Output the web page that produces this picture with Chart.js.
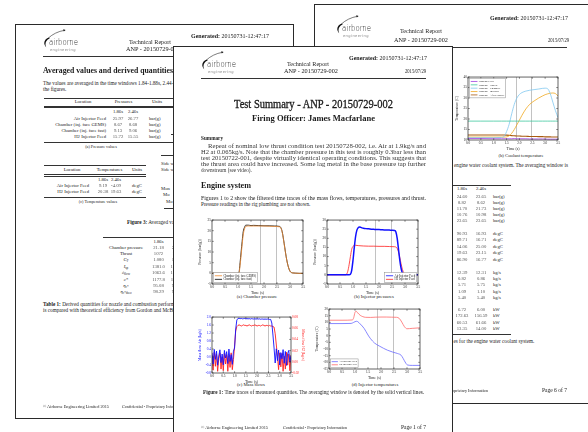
<!DOCTYPE html>
<html><head><meta charset="utf-8">
<script src="https://cdn.jsdelivr.net/npm/chart.js@4.4.1/dist/chart.umd.min.js"></script>
<style>
html,body{margin:0;padding:0;background:#fff;}
#stage{position:relative;width:588px;height:432px;overflow:hidden;background:#fff;}
.page{position:absolute;background:#fff;border:1px solid #2a2a2a;box-sizing:border-box;overflow:hidden;}
.t{position:absolute;white-space:nowrap;font-family:"Liberation Serif","DejaVu Serif",serif;color:#1a1a1a;line-height:1;transform-origin:0 50%;}
.t sub{font-size:70%;vertical-align:-0.25em;line-height:0;}
.rule{position:absolute;background:#333;}
canvas{position:absolute;}
</style></head><body><div id="stage"></div>
<script>
// ---------- shared time axis ----------
const timeAxisLabels = ['0.0','0.5','1.0','1.5','2.0','2.5','3.0','3.5'];
const windowTimes = [1.86, 2.46];

// ---------- (a) chamber pressure, bar(g) ----------
const chamberTicks = ['-5','0','5','10','15','20','25'];
const chamberTime = [0,0.5,0.9,1.0,1.04,1.08,1.12,1.16,1.2,1.25,1.3,1.4,1.5,1.6,1.8,2.0,2.2,2.4,2.6,2.65,2.7,2.75,2.8,2.85,2.9,2.95,3.0,3.05,3.1,3.2,3.35,3.5];
const chamberGems = [0,0,0,0,0.3,3.8,8.5,13.5,18,20.8,22.0,22.2,22.2,22.2,22.2,22.2,22.1,22.0,21.8,21.2,19.3,15.8,11.8,7.9,4.7,2.5,1.0,0.4,0.2,0.1,0,0];
const chamberFast = [0,0,0,0,0.5,5,10,15,19.5,21.6,22.6,22.6,22.4,22.5,22.4,22.3,22.3,22.2,22.0,21.4,19.5,16,12,8,4.8,2.5,1.0,0.4,0.2,0.1,0,0];

// ---------- (b) injector pressures, bar(g) ----------
const injPressTicks = ['-5','0','5','10','15','20','25','30'];
const airInjTime = [0,0.5,0.85,0.9,0.95,1.0,1.05,1.1,1.15,1.2,1.25,1.3,1.35,1.4,1.5,1.6,1.7,1.8,1.9,2.0,2.1,2.2,2.3,2.4,2.5,2.6,2.65,2.7,2.75,2.8,2.85,2.9,2.95,3.0,3.5];
const airInjPress = [0,0,0,0.3,2.5,8,15,21,24.5,25.8,26.2,26.0,25.7,25.5,25.3,25.2,25.0,24.9,24.8,24.8,24.7,24.6,24.6,24.5,24.4,24.3,23.5,20,14,8,3.5,1.0,0.3,0,0];
const h2InjTime = [0,0.5,0.7,0.75,0.8,0.85,0.9,0.95,1.0,1.05,1.1,1.2,1.4,1.6,1.8,2.0,2.2,2.4,2.6,2.65,2.7,2.75,2.8,2.85,2.9,2.95,3.0,3.5];
const h2InjPress = [0,0,0,0.3,2,5.5,10,14,15.6,16.1,16.2,16.0,15.8,15.7,15.7,15.6,15.6,15.5,15.4,15.2,14.5,12.5,9.5,6.0,3.0,1.2,0.3,0];

// ---------- (c) mass flows, kg/s ----------
const airFlowTicks = ['-0.8','-0.4','0.0','0.4','0.8','1.2','1.6','2.0'];
const h2FlowTicks = ['-0.02','0.00','0.02','0.04','0.06','0.08'];
const flowTime = [0.00,0.05,0.10,0.15,0.20,0.25,0.30,0.35,0.40,0.45,0.50,0.55,0.60,0.65,0.70,0.75,0.80,0.85,0.90,0.95,
  1.00,1.05,1.10,1.15,1.20,1.25,1.30,1.35,1.40,1.45,1.50,1.55,1.60,1.65,1.70,1.75,1.80,1.85,1.90,1.95,
  2.00,2.05,2.10,2.15,2.20,2.25,2.30,2.35,2.40,2.45,2.50,2.55,2.60,2.65,2.70,2.75,2.80,2.85,2.90,2.95,
  3.00,3.05,3.10,3.15,3.20,3.25,3.30,3.35,3.40,3.45,3.50];
const airFlow = [0.21,-0.35,0.38,-0.12,0.30,-0.41,0.05,0.36,-0.28,0.15,-0.39,0.33,-0.05,0.27,-0.33,0.40,-0.22,0.12,-0.37,0.29,
  0.45,1.40,1.85,1.93,1.94,1.92,1.93,1.91,1.92,1.93,1.91,1.92,1.91,1.92,1.90,1.92,1.91,1.90,1.91,1.90,
  1.91,1.90,1.91,1.89,1.90,1.90,1.89,1.90,1.89,1.90,1.89,1.88,1.88,1.70,1.10,0.45,-0.30,0.41,-0.18,0.35,
  -0.40,0.22,-0.09,0.37,-0.31,0.28,-0.42,0.16,0.33,-0.26,0.08];
const h2Flow = [0.012,-0.015,0.017,-0.008,0.014,-0.017,0.006,0.016,-0.013,0.009,-0.016,0.015,-0.004,0.013,-0.017,0.011,-0.010,0.016,-0.014,0.004,
  0.028,0.055,0.063,0.065,0.066,0.065,0.064,0.065,0.066,0.065,0.065,0.064,0.065,0.066,0.065,0.064,0.065,0.065,0.066,0.065,
  0.064,0.065,0.065,0.064,0.065,0.066,0.065,0.064,0.065,0.065,0.064,0.065,0.064,0.064,0.063,0.062,0.050,0.030,0.010,-0.014,
  0.016,-0.009,0.015,-0.017,0.010,-0.013,0.017,-0.006,0.014,-0.016,0.012];

// ---------- (d) injector temperatures, C ----------
const injTempTicks = ['-25','-20','-15','-10','-5','0','5','10','15','20'];
const airTempTime = [0,0.5,0.85,0.95,1.05,1.1,1.2,1.35,1.5,1.6,1.75,1.93,2.1,2.25,2.45,2.64,2.77,2.85,2.95,3.02,3.2,3.5];
const airTemp = [9.1,9.1,9.2,10.0,10.8,10.6,8.8,5.5,0.5,-2.3,-5.5,-7.7,-9.5,-10.9,-12.3,-13.4,-14.6,-17,-20.5,-22.0,-22.3,-22.3];
const h2TempTime = [0,0.5,0.9,0.95,1.0,1.05,1.1,1.2,1.3,1.4,1.6,1.8,2.0,2.2,2.4,2.6,2.7,2.8,2.9,3.0,3.2,3.5];
const h2Temp = [11.6,11.6,11.8,13.5,17.5,18.3,17.2,15.3,14.3,13.8,13.7,13.9,14.0,14.0,13.9,13.8,13.0,10.2,6.8,5.2,5.5,5.9];

// ---------- (b, page 6) coolant temperatures, C ----------
const coolantTicks = ['10','15','20','25','30','35','40'];
const coolantTime = [0,0.5,1.0,1.3,1.4,1.5,1.6,1.7,1.8,1.9,2.0,2.1,2.25,2.4,2.57,2.75,2.9,3.0,3.1,3.2,3.3,3.4,3.5];
const coolantFeed = [10.7,10.7,10.6,10.6,10.6,10.6,10.6,10.6,10.7,10.6,10.6,10.6,10.6,10.5,10.5,10.5,10.5,10.5,10.4,10.4,10.4,10.4,10.4];
const coolantNozzle = [19.0,19.0,19.0,19.0,19.0,19.0,19.0,19.0,19.0,19.0,19.0,19.0,19.0,19.0,19.0,19.0,19.0,19.0,19.0,19.0,19.0,19.0,19.0];
const coolantChamber = [11.1,11.1,11.1,11.2,11.6,14.0,17.5,22.5,27.0,30.0,31.7,32.6,33.3,33.7,34.0,34.3,34.6,34.7,34.4,32.0,28.0,24.0,20.6];
const coolantInjector = [11.4,11.4,11.4,11.4,11.4,11.5,12.0,13.2,15.0,17.2,19.5,21.8,24.8,27.0,28.6,30.0,31.0,31.6,32.0,32.3,32.4,32.1,31.0];
const coolantAfterNozzle = [12.4,12.4,12.4,12.4,12.4,12.3,12.2,12.1,12.0,11.9,11.9,11.8,11.8,11.7,11.7,11.6,11.6,11.5,11.5,11.5,11.4,11.4,11.4];

// ================= page helpers =================
const stage = document.getElementById('stage');
function makePage(x, y, w, h, z) {
  const el = document.createElement('div');
  el.className = 'page';
  Object.assign(el.style, {left: x + 'px', top: y + 'px', width: w + 'px', height: h + 'px', zIndex: z});
  stage.appendChild(el);
  return {el, x, y};
}
// text centred vertically on y; x is left edge, centre or right edge
function T(pg, x, y, s, o = {}) {
  const d = document.createElement('div');
  d.className = 't';
  if (o.html) d.innerHTML = s; else d.textContent = s;
  const size = o.size || 5;
  d.style.fontSize = size + 'px';
  if (o.bold) d.style.fontWeight = 'bold';
  if (o.color) d.style.color = o.color;
  if (o.blur) d.style.filter = 'blur(' + o.blur + 'px)';
  if (o.ls) d.style.letterSpacing = o.ls + 'px';
  if (o.font) d.style.fontFamily = o.font;
  if (o.weight) d.style.fontWeight = o.weight;
  if (o.stroke) d.style.webkitTextStroke = o.stroke + 'px #1a1a1a';
  pg.el.appendChild(d);
  const w0 = d.getBoundingClientRect().width;
  const sx = o.w ? o.w / w0 : (o.sx || 1);
  const w = w0 * sx;
  let left = x;
  if (o.align === 'c') left = x - w / 2;
  else if (o.align === 'r') left = x - w;
  d.style.left = (left - pg.x) + 'px';
  d.style.top = (y - pg.y - size / 2) + 'px';
  if (sx !== 1) d.style.transform = 'scaleX(' + sx + ')';
  return d;
}
function R(pg, x1, x2, y, th = 0.6) {
  const d = document.createElement('div');
  d.className = 'rule';
  Object.assign(d.style, {left: (x1 - pg.x) + 'px', top: (y - pg.y - th / 2) + 'px', width: (x2 - x1) + 'px', height: th + 'px'});
  pg.el.appendChild(d);
}
// company mark: swoosh + wordmark
function logo(pg, ox, oy) {
  const ns = 'http://www.w3.org/2000/svg';
  const svg = document.createElementNS(ns, 'svg');
  svg.setAttribute('width', 26); svg.setAttribute('height', 20);
  Object.assign(svg.style, {position: 'absolute', left: (ox - pg.x) + 'px', top: (oy - pg.y) + 'px'});
  svg.innerHTML =
    '<path d="M6.2 8.6 C1.6 9.6 -0.6 14.6 3.2 18.2 C1.6 15.2 2.6 11.2 6.6 9.6 Z" fill="#111"/>' +
    '<path d="M5.2 9.2 C9.5 5.2 15 2.4 21.5 1.3" stroke="#111" stroke-width="0.55" fill="none"/>' +
    '<path d="M22.6 1.1 L20.2 0.2 L20.8 2.4 Z" fill="#111"/>';
  pg.el.appendChild(svg);
  T(pg, ox + 6, oy + 14, 'airborne', {w: 29, size: 8, font: '"DejaVu Sans",sans-serif', weight: 200, color: '#222'});
  T(pg, ox + 7, oy + 21, 'engineering', {w: 26, size: 3.8, font: '"DejaVu Sans",sans-serif', color: '#888', ls: 0.4});
}
// running header; g = positions of its parts relative to the page corner
function header(pg, ox, oy, g) {
  g = Object.assign({logo: [27, 4], gen: 12, tr: [134, 18], anp: [137, 25], date: [252, 25], rule: 31}, g || {});
  logo(pg, ox + g.logo[0], oy + g.logo[1]);
  T(pg, ox + 253, oy + g.gen, '<b>Generated:</b> 20150731-12:47:17', {html: true, align: 'r', w: 78, size: 5.4});
  T(pg, ox + g.tr[0], oy + g.tr[1], 'Technical Report', {align: 'c', w: 42, size: 5.4});
  T(pg, ox + g.anp[0], oy + g.anp[1], 'ANP - 20150729-002', {align: 'c', w: 54, size: 5.4});
  T(pg, ox + g.date[0], oy + g.date[1], '2015/07/29', {align: 'r', w: 21, size: 5.4});
  R(pg, ox + 27, ox + 252, oy + g.rule, 0.6);
}

// ================= chart helpers =================
const FONT = '"Liberation Serif","DejaVu Serif",serif';
const framePlugin = {
  id: 'frame',
  beforeDatasetsDraw(chart) {
    const {ctx, chartArea: a, scales} = chart;
    ctx.save();
    ctx.strokeStyle = '#c2c2c2'; ctx.lineWidth = 1;
    windowTimes.forEach(t => {
      const px = Math.round(scales.x.getPixelForValue(t)) + 0.5;
      ctx.beginPath(); ctx.moveTo(px, a.top); ctx.lineTo(px, a.bottom); ctx.stroke();
    });
    ctx.restore();
  },
  afterDatasetsDraw(chart) {
    const {ctx, chartArea: a, scales} = chart;
    ctx.save();
    ctx.strokeStyle = '#222'; ctx.lineWidth = 0.7;
    ctx.strokeRect(a.left, a.top, a.right - a.left, a.bottom - a.top);
    ctx.lineWidth = 0.5;
    const L = 1.8;
    scales.x.ticks.forEach(tk => {
      const px = scales.x.getPixelForValue(tk.value);
      ctx.beginPath(); ctx.moveTo(px, a.bottom); ctx.lineTo(px, a.bottom - L);
      ctx.moveTo(px, a.top); ctx.lineTo(px, a.top + L); ctx.stroke();
    });
    scales.y.ticks.forEach(tk => {
      const py = scales.y.getPixelForValue(tk.value);
      ctx.beginPath(); ctx.moveTo(a.left, py); ctx.lineTo(a.left + L, py);
      if (!scales.y2) { ctx.moveTo(a.right, py); ctx.lineTo(a.right - L, py); }
      ctx.stroke();
    });
    if (scales.y2) scales.y2.ticks.forEach(tk => {
      const py = scales.y2.getPixelForValue(tk.value);
      ctx.beginPath(); ctx.moveTo(a.right, py); ctx.lineTo(a.right - L, py); ctx.stroke();
    });
    ctx.restore();
  }
};
const boxLegend = {
  id: 'boxLegend',
  afterDraw(chart, args, o) {
    if (!o || !o.corner) return;
    const {ctx, chartArea: a} = chart;
    const items = chart.data.datasets;
    const fs = o.size || 3;
    ctx.save();
    ctx.font = fs + 'px ' + FONT;
    const lineH = fs * 1.2, sample = fs * 2.4, pad = fs * 0.45;
    const tw = Math.max(...items.map(d => ctx.measureText(d.label).width));
    const w = pad * 3 + sample + tw, h = pad * 2 + lineH * items.length;
    const x = o.corner.includes('l') ? a.left + 1.5 : a.right - 1.5 - w;
    const y = o.corner.includes('t') ? a.top + 1.5 : a.bottom - 1.5 - h;
    ctx.fillStyle = '#fff'; ctx.strokeStyle = '#8a8a8a'; ctx.lineWidth = 0.5;
    ctx.fillRect(x, y, w, h); ctx.strokeRect(x, y, w, h);
    items.forEach((d, i) => {
      const cy = y + pad + lineH * (i + 0.5);
      ctx.strokeStyle = d.borderColor; ctx.lineWidth = 0.8;
      ctx.beginPath(); ctx.moveTo(x + pad, cy); ctx.lineTo(x + pad + sample, cy); ctx.stroke();
      ctx.fillStyle = '#111'; ctx.textBaseline = 'middle';
      ctx.fillText(d.label, x + pad * 2 + sample, cy);
    });
    ctx.restore();
  }
};
Chart.register(framePlugin, boxLegend);

function series(label, xs, ys, color, extra = {}) {
  return Object.assign({
    label, data: xs.map((x, i) => ({x, y: ys[i]})),
    borderColor: color, borderWidth: 0.8, pointRadius: 0, fill: false,
    cubicInterpolationMode: 'monotone', yAxisID: 'y'
  }, extra);
}
function yScale(min, max, step, labels, title, color, width, pos) {
  return {
    type: 'linear', position: pos || 'left', min, max,
    ticks: {stepSize: step, autoSkip: false, font: {size: 3.4, family: FONT}, color: color || '#222', padding: 1,
      callback: (v, i) => labels[i] !== undefined ? labels[i] : ''},
    grid: {display: false, drawTicks: false}, border: {display: false},
    title: {display: true, text: title, font: {size: 3.8, family: FONT}, color: color || '#222', padding: 0},
    afterFit: s => { s.width = width; }
  };
}
function xScale(height) {
  return {
    type: 'linear', min: 0, max: 3.5,
    ticks: {stepSize: 0.5, autoSkip: false, maxRotation: 0, font: {size: 3.4, family: FONT}, color: '#222', padding: 1,
      callback: (v, i) => timeAxisLabels[i] !== undefined ? timeAxisLabels[i] : ''},
    grid: {display: false, drawTicks: false}, border: {display: false},
    title: {display: true, text: 'Time (s)', font: {size: 3.8, family: FONT}, color: '#222', padding: 0},
    afterFit: s => { s.height = height; }
  };
}
function chartAt(pg, plot, datasets, scales, legend) {
  const c = document.createElement('canvas');
  const W = plot.axL + plot.w + plot.axR, H = plot.padT + plot.h + plot.axB;
  c.width = W; c.height = H;
  Object.assign(c.style, {left: (plot.x - plot.axL - pg.x) + 'px', top: (plot.y - plot.padT - pg.y) + 'px', width: W + 'px', height: H + 'px'});
  pg.el.appendChild(c);
  return new Chart(c, {
    type: 'line',
    data: {datasets},
    options: {
      responsive: false, animation: false, devicePixelRatio: 1,
      layout: {padding: {top: plot.padT, right: scales.y2 ? 0 : plot.axR, left: 0, bottom: 0}},
      plugins: {legend: {display: false}, tooltip: {enabled: false}, boxLegend: legend},
      scales: Object.assign({x: xScale(plot.axB)}, scales)
    }
  });
}

// ================= back page (left) =================
const pL = makePage(15, 24, 279, 395, 1);
header(pL, 15, 24);
T(pL, 42, 70.5, 'Averaged values and derived quantities', {w: 130, size: 8.4, bold: true});
T(pL, 42, 82.5, 'The values are averaged in the time windows 1.84-1.88s, 2.44-2.48s, which are denoted by the lines in', {size: 5.2});
T(pL, 42, 89, 'the figures.', {size: 5.2});
// table (a)
R(pL, 43, 172, 97);
T(pL, 82, 101.2, 'Location', {align: 'c', size: 4.7});
T(pL, 122.5, 101.2, 'Pressures', {align: 'c', size: 4.7});
T(pL, 156, 101.2, 'Units', {align: 'c', size: 4.7});
R(pL, 43, 172, 105.2, 0.45); R(pL, 43, 172, 106.6, 0.45);
T(pL, 117, 111.7, '1.86s', {align: 'c', size: 4.7});
T(pL, 132, 111.7, '2.46s', {align: 'c', size: 4.7});
const pRows = [['Air Injector Feed', '25.97', '26.77'], ['Chamber (inj. face GEMS)', '8.67', '8.68'], ['Chamber (inj. face fast)', '9.13', '9.06'], ['H2 Injector Feed', '15.72', '15.55']];
pRows.forEach((r, i) => {
  const y = 118 + i * 6;
  T(pL, 105, y, r[0], {align: 'r', size: 4.7});
  T(pL, 117, y, r[1], {align: 'c', size: 4.7, blur: 0.75, color: '#555'});
  T(pL, 132, y, r[2], {align: 'c', size: 4.7, blur: 0.75, color: '#555'});
  T(pL, 148, y, 'bar(g)', {size: 4.7});
});
R(pL, 43, 172, 141);
T(pL, 100, 146.3, '(a) Pressure values', {align: 'c', size: 4.2});
// edge of table (b)
R(pL, 170, 180, 105.2, 0.45); R(pL, 170, 180, 106.6, 0.45); R(pL, 170, 180, 133, 0.45);
R(pL, 160, 180, 154, 0.6);
T(pL, 160, 163, 'Side wall', {size: 4.7}); T(pL, 160, 169.5, 'Side wall', {size: 4.7});
T(pL, 160, 188, 'Mon', {size: 4.7}); T(pL, 162, 194.5, 'Mo', {size: 4.7}); T(pL, 165, 201, 'Mo', {size: 4.7});
R(pL, 163, 180, 207, 0.6);
// table (c)
R(pL, 43, 145, 164.3);
T(pL, 71, 169, 'Location', {align: 'c', size: 4.7});
T(pL, 108.5, 169, 'Temperatures', {align: 'c', size: 4.7});
T(pL, 136, 169, 'Units', {align: 'c', size: 4.7});
R(pL, 43, 145, 173.4, 0.45); R(pL, 43, 145, 174.8, 0.45);
T(pL, 102, 179.2, '1.86s', {align: 'c', size: 4.7});
T(pL, 115, 179.2, '2.46s', {align: 'c', size: 4.7});
[['Air Injector Feed', '9.19', '-4.09'], ['H2 Injector Feed', '20.38', '19.63']].forEach((r, i) => {
  const y = 185.2 + i * 6;
  T(pL, 88, y, r[0], {align: 'r', size: 4.7});
  T(pL, 102, y, r[1], {align: 'c', size: 4.7, blur: 0.75, color: '#555'});
  T(pL, 115, y, r[2], {align: 'c', size: 4.7, blur: 0.75, color: '#555'});
  T(pL, 131, y, 'degC', {size: 4.7});
});
R(pL, 43, 145, 196.2);
T(pL, 97, 201, '(c) Temperature values', {align: 'c', size: 4.2});
T(pL, 126, 222, '<b>Figure 3:</b> Averaged values', {html: true, size: 5.2});
// table 1
R(pL, 102, 180, 236);
T(pL, 157.5, 241, '1.86s', {align: 'c', size: 4.7});
const dRows = [['Chamber pressure', '21.18'], ['Thrust', '1072'], ['<i>C</i><sub>F</sub>', '1.080'], ['<i>I</i><sub>sp</sub>', '1381.0'],
  ['<i>ċ</i><sub>flow</sub>', '1063.6'], ['<i>c</i>*', '1177.8'], ['<i>η</i><sub>c*</sub>', '95.08'], ['<i>η</i><sub>c*theo</sub>', '98.29']];
dRows.forEach((r, i) => {
  const y = 247 + i * 6.4;
  T(pL, 125, y, r[0], {align: 'c', size: 4.7, html: true});
  T(pL, 157.5, y, r[1], {align: 'c', size: 4.7, blur: 0.75, color: '#555'});
  T(pL, 176, y, r[1], {align: 'c', size: 4.7, blur: 0.75, color: '#555'});
});
T(pL, 42, 304, '<b>Table 1:</b> Derived quantities for nozzle and combustion performance. The combustion efficiency', {html: true, size: 5.2});
T(pL, 42, 310, 'is compared with theoretical efficiency from Gordon and McBride equilibrium calculations.', {size: 5.2});
T(pL, 42, 405, '© Airborne Engineering Limited 2015', {w: 66, size: 5});
T(pL, 121, 405, 'Confidential - Proprietary Information', {w: 64, size: 5});

// ================= back page (right) =================
const pR = makePage(314, 4, 280, 400, 1);
header(pR, 314, 4, {logo: [21, 10], gen: 14, tr: [106, 26.5], anp: [106, 35.5], date: [254, 36], rule: 42});
T(pR, 520, 155, '(b) Coolant temperature', {align: 'c', size: 4.7});
T(pR, 453, 164.5, 'engine water coolant system. The averaging window is', {size: 5.2});
R(pR, 440, 510, 184, 0.6);
T(pR, 461, 188.5, '1.86s', {align: 'c', size: 4.7});
T(pR, 480, 188.5, '2.46s', {align: 'c', size: 4.7});
const coolRows = [
  [196, '24.60', '23.65', 'bar(g)'], [202, '8.82', '8.62', 'bar(g)'], [208, '11.70', '21.73', 'bar(g)'], [214.5, '10.76', '10.98', 'bar(g)'], [220.5, '23.65', '23.65', 'bar(g)'],
  [233, '90.93', '16.93', 'degC'], [239.5, '89.71', '16.71', 'degC'], [246, '14.06', '25.00', 'degC'], [252.5, '19.63', '23.15', 'degC'], [259, '86.90', '16.77', 'degC'],
  [272, '12.39', '12.31', 'kg/s'], [278.5, '0.82', '0.86', 'kg/s'], [284.5, '5.71', '5.75', 'kg/s'], [291, '1.09', '1.10', 'kg/s'], [297, '5.40', '5.40', 'kg/s'],
  [309.5, '6.72', '6.00', 'kW'], [315.5, '172.63', '156.59', 'kW'], [322, '60.53', '61.66', 'kW'], [328.5, '13.35', '14.00', 'kW']];
coolRows.forEach(r => {
  T(pR, 461, r[0], r[1], {align: 'c', size: 4.7, blur: 0.75, color: '#555'});
  T(pR, 480, r[0], r[2], {align: 'c', size: 4.7, blur: 0.75, color: '#555'});
  T(pR, 492, r[0], r[3], {size: 4.7});
});
R(pR, 440, 510, 333, 0.6);
T(pR, 452.5, 341, 'es for the engine water coolant system.', {size: 5.2});
T(pR, 487, 389, 'Confidential - Proprietary Information', {align: 'r', w: 64, size: 5});
T(pR, 566, 389, 'Page 6 of 7', {align: 'r', w: 25, size: 6});

// ================= front page =================
const pF = makePage(173, 46, 280, 400, 3);
header(pF, 173, 46);
T(pF, 312.5, 103.3, 'Test Summary - ANP - 20150729-002', {align: 'c', w: 159, size: 11.5, stroke: 0.3});
T(pF, 312.5, 117.8, 'Firing Officer: James Macfarlane', {align: 'c', w: 123, size: 8.4, bold: true});
T(pF, 200, 138, 'Summary', {w: 22, size: 5.4, bold: true});
const summary = [
  [207, 146, 218, 'Repeat of nominal low thrust condition test 20150728-002, i.e. Air at 1.9kg/s and'],
  [200, 152, 225, 'H2 at 0.065kg/s. Note that the chamber pressure in this test is roughly 0.3bar less than'],
  [200, 158, 225, 'test 20150722-001, despite virtually identical operating conditions. This suggests that'],
  [200, 164, 225, 'the thrust area could have increased. Some lag metal in the base pressure tap further'],
  [200, 170, 0, 'downstream (see video).']];
summary.forEach(l => T(pF, l[0], l[1], l[3], {w: l[2] || undefined, size: 5.2, blur: 0.45, color: '#333'}));
T(pF, 200, 185, 'Engine system', {w: 50, size: 8, bold: true});
T(pF, 200, 197.5, 'Figures 1 to 2 show the filtered time traces of the mass flows, temperatures, pressures and thrust.', {w: 225, size: 5.2});
T(pF, 200, 203.5, 'Pressure readings in the rig plumbing are not shown.', {size: 5.2});
T(pF, 256, 296, '(a) Chamber pressure', {align: 'c', size: 4.7});
T(pF, 373, 296, '(b) Injector pressures', {align: 'c', size: 4.7});
T(pF, 250, 384.5, '(c) Mass flows', {align: 'c', size: 4.7});
T(pF, 374, 384.5, '(d) Injector temperatures', {align: 'c', size: 4.7});
T(pF, 202, 391.5, '<b>Figure 1:</b> Time traces of measured quantities. The averaging window is denoted by the solid vertical lines.', {html: true, w: 221, size: 5.2});
T(pF, 200, 426, '© Airborne Engineering Limited 2015', {w: 67, size: 5});
T(pF, 282, 426, 'Confidential - Proprietary Information', {w: 64, size: 5});
T(pF, 425, 426, 'Page 1 of 7', {align: 'r', w: 25, size: 6});

// ================= charts =================
const BLUE = '#1010ff', RED = '#ff2020';
chartAt(pF, {x: 211, y: 219, w: 91, h: 64, axL: 14, axR: 4, padT: 3, axB: 11},
  [series('Chamber (inj. face GEMS)', chamberTime, chamberGems, '#f08a30'),
   series('Chamber (inj. face fast)', chamberTime, chamberFast, '#000000')],
  {y: yScale(-5, 25, 5, chamberTicks, 'Pressure (bar(g))', null, 14)},
  {corner: 'bl', size: 3});

chartAt(pF, {x: 326, y: 219, w: 91, h: 64, axL: 14, axR: 4, padT: 3, axB: 11},
  [series('Air Injector Feed', airInjTime, airInjPress, BLUE, {borderWidth: 1.5}),
   series('H2 Injector Feed', h2InjTime, h2InjPress, RED)],
  {y: yScale(-5, 30, 5, injPressTicks, 'Pressure (bar(g))', null, 14)},
  {corner: 'br', size: 3});

chartAt(pF, {x: 211, y: 316, w: 79, h: 56, axL: 14, axR: 14, padT: 3, axB: 11},
  [series('Air', flowTime, airFlow, BLUE, {cubicInterpolationMode: 'default', tension: 0, borderWidth: 0.9}),
   series('H2', flowTime, h2Flow, RED, {cubicInterpolationMode: 'default', tension: 0, borderWidth: 0.9, yAxisID: 'y2'})],
  {y: yScale(-0.8, 2.0, 0.4, airFlowTicks, 'Mass flow Air (kg/s)', BLUE, 14),
   y2: yScale(-0.02, 0.08, 0.02, h2FlowTicks, 'Mass flow H2 (kg/s)', RED, 14, 'right')},
  null);

chartAt(pF, {x: 328, y: 308, w: 91, h: 60, axL: 14, axR: 4, padT: 3, axB: 11},
  [series('Air Injector Feed', airTempTime, airTemp, '#6a6aff'),
   series('H2 Injector Feed', h2TempTime, h2Temp, '#ff6a6a')],
  {y: yScale(-25, 20, 5, injTempTicks, 'Temperature (C)', null, 14)},
  {corner: 'bl', size: 2.6});

chartAt(pR, {x: 467, y: 76, w: 90, h: 63, axL: 13, axR: 4, padT: 3, axB: 11},
  [series('Coolant Feed', coolantTime, coolantFeed, '#a040e0'),
   series('Coolant - Nozzle', coolantTime, coolantNozzle, '#40c8a0'),
   series('Coolant - Chamber', coolantTime, coolantChamber, '#80c8f0'),
   series('Coolant - Injector', coolantTime, coolantInjector, '#f0a820'),
   series('Coolant - After Nozzle', coolantTime, coolantAfterNozzle, '#a85a10', {borderWidth: 1.1})],
  {y: yScale(10, 40, 5, coolantTicks, 'Temperature (C)', null, 13)},
  {corner: 'tl', size: 2.8});
</script></body></html>
